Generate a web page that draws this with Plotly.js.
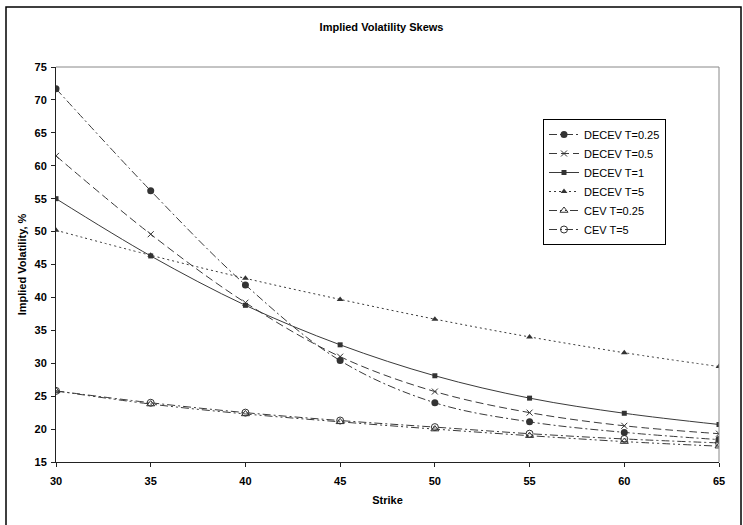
<!DOCTYPE html>
<html>
<head>
<meta charset="utf-8">
<script src="https://cdn.plot.ly/plotly-3.0.1.min.js"></script>
<style>html,body{margin:0;padding:0;background:#fff;}#chart{width:743px;height:525px;}</style>
</head>
<body>
<div id="chart"></div>
<script>
var strikes = [30, 35, 40, 45, 50, 55, 60, 65];
var decevT025 = [71.7, 56.2, 41.9, 30.4, 24.0, 21.1, 19.5, 18.4];
var decevT05  = [61.5, 49.6, 39.2, 31.0, 25.7, 22.5, 20.5, 19.3];
var decevT1   = [55.0, 46.3, 38.8, 32.8, 28.1, 24.7, 22.4, 20.7];
var decevT5   = [50.2, 46.4, 42.9, 39.7, 36.7, 34.0, 31.6, 29.5];
var cevT025   = [25.8, 23.8, 22.3, 21.1, 20.0, 19.0, 18.1, 17.4];
var cevT5     = [25.8, 24.0, 22.5, 21.3, 20.3, 19.3, 18.5, 17.9];
var seriesNames = ["DECEV T=0.25", "DECEV T=0.5", "DECEV T=1", "DECEV T=5", "CEV T=0.25", "CEV T=5"];
var xTicks = [30, 35, 40, 45, 50, 55, 60, 65];
var yTicks = [15, 20, 25, 30, 35, 40, 45, 50, 55, 60, 65, 70, 75];

var lc = '#3a3a3a';
var FONT = 'Liberation Sans, Arial, Helvetica, sans-serif';

function tr(y, name, dash, sym, msize, mlinew) {
  return {
    x: strikes, y: y, name: name, type: 'scatter', mode: 'lines+markers',
    line: {color: lc, width: 1, dash: dash, shape: 'spline', smoothing: 1},
    marker: {symbol: sym, size: msize, color: '#333333', line: {color: '#333333', width: mlinew}}
  };
}

var data = [
  tr(decevT025, seriesNames[0], '8px,3px,2px,3px', 'circle', 7, 0),
  tr(decevT05,  seriesNames[1], '8px,4px', 'x-thin-open', 6, 1),
  tr(decevT1,   seriesNames[2], 'solid', 'square', 5, 0),
  tr(decevT5,   seriesNames[3], '2px,3px', 'triangle-up', 6, 0),
  tr(cevT025,   seriesNames[4], '8px,3px,2px,3px,2px,3px', 'triangle-up-open', 7, 1),
  tr(cevT5,     seriesNames[5], '8px,3px,2px,3px', 'circle-open', 7, 1)
];

var layout = {
  width: 743, height: 525,
  margin: {l: 56, r: 24, t: 67, b: 63},
  paper_bgcolor: '#ffffff', plot_bgcolor: '#ffffff',
  font: {family: FONT, color: '#000000'},
  showlegend: true,
  title: {text: '<b>Implied Volatility Skews</b>', font: {size: 11, family: FONT, color: '#000'},
          xref: 'paper', x: 0.491, xanchor: 'center', yref: 'container', y: 1 - 27/525, yanchor: 'middle'},
  xaxis: {
    range: [30, 65], tickvals: xTicks, ticktext: xTicks.map(String),
    showgrid: false, zeroline: false, showline: true, linecolor: '#222', linewidth: 1,
    ticks: 'outside', ticklen: 4, tickcolor: '#222', ticklabelstandoff: 5,
    tickfont: {size: 11, family: FONT, weight: 'bold'},
    title: {text: '<b>Strike</b>', font: {size: 11, family: FONT}, standoff: 10}
  },
  yaxis: {
    range: [15, 75], tickvals: yTicks, ticktext: yTicks.map(String),
    showgrid: false, zeroline: false, showline: true, linecolor: '#222', linewidth: 1,
    ticks: 'outside', ticklen: 4, tickcolor: '#222', ticklabelstandoff: 2,
    tickfont: {size: 11, family: FONT, weight: 'bold'},
    title: {text: '<b>Implied Volatility, %</b>', font: {size: 11, family: FONT}, standoff: 5}
  },
  legend: {
    x: (543 - 56) / 663, y: (462 - 119) / 395, xanchor: 'left', yanchor: 'top',
    bordercolor: '#000', borderwidth: 1, bgcolor: '#fff',
    font: {size: 11, family: FONT}, itemwidth: 30, tracegroupgap: 0
  },
  shapes: [
    {type: 'line', xref: 'paper', yref: 'paper', x0: 0, x1: 1, y0: 1, y1: 1, line: {color: '#888', width: 1}},
    {type: 'line', xref: 'paper', yref: 'paper', x0: 1, x1: 1, y0: 0, y1: 1, line: {color: '#888', width: 1}},
    {type: 'rect', xref: 'paper', yref: 'paper', x0: (6 - 56) / 663, x1: (741 - 56) / 663,
     y0: -0.3, y1: (462 - 7) / 395, line: {color: '#000', width: 1.5}, fillcolor: 'rgba(0,0,0,0)', layer: 'below'}
  ]
};

Plotly.newPlot('chart', data, layout, {displayModeBar: false, staticPlot: true});
</script>
</body>
</html>
